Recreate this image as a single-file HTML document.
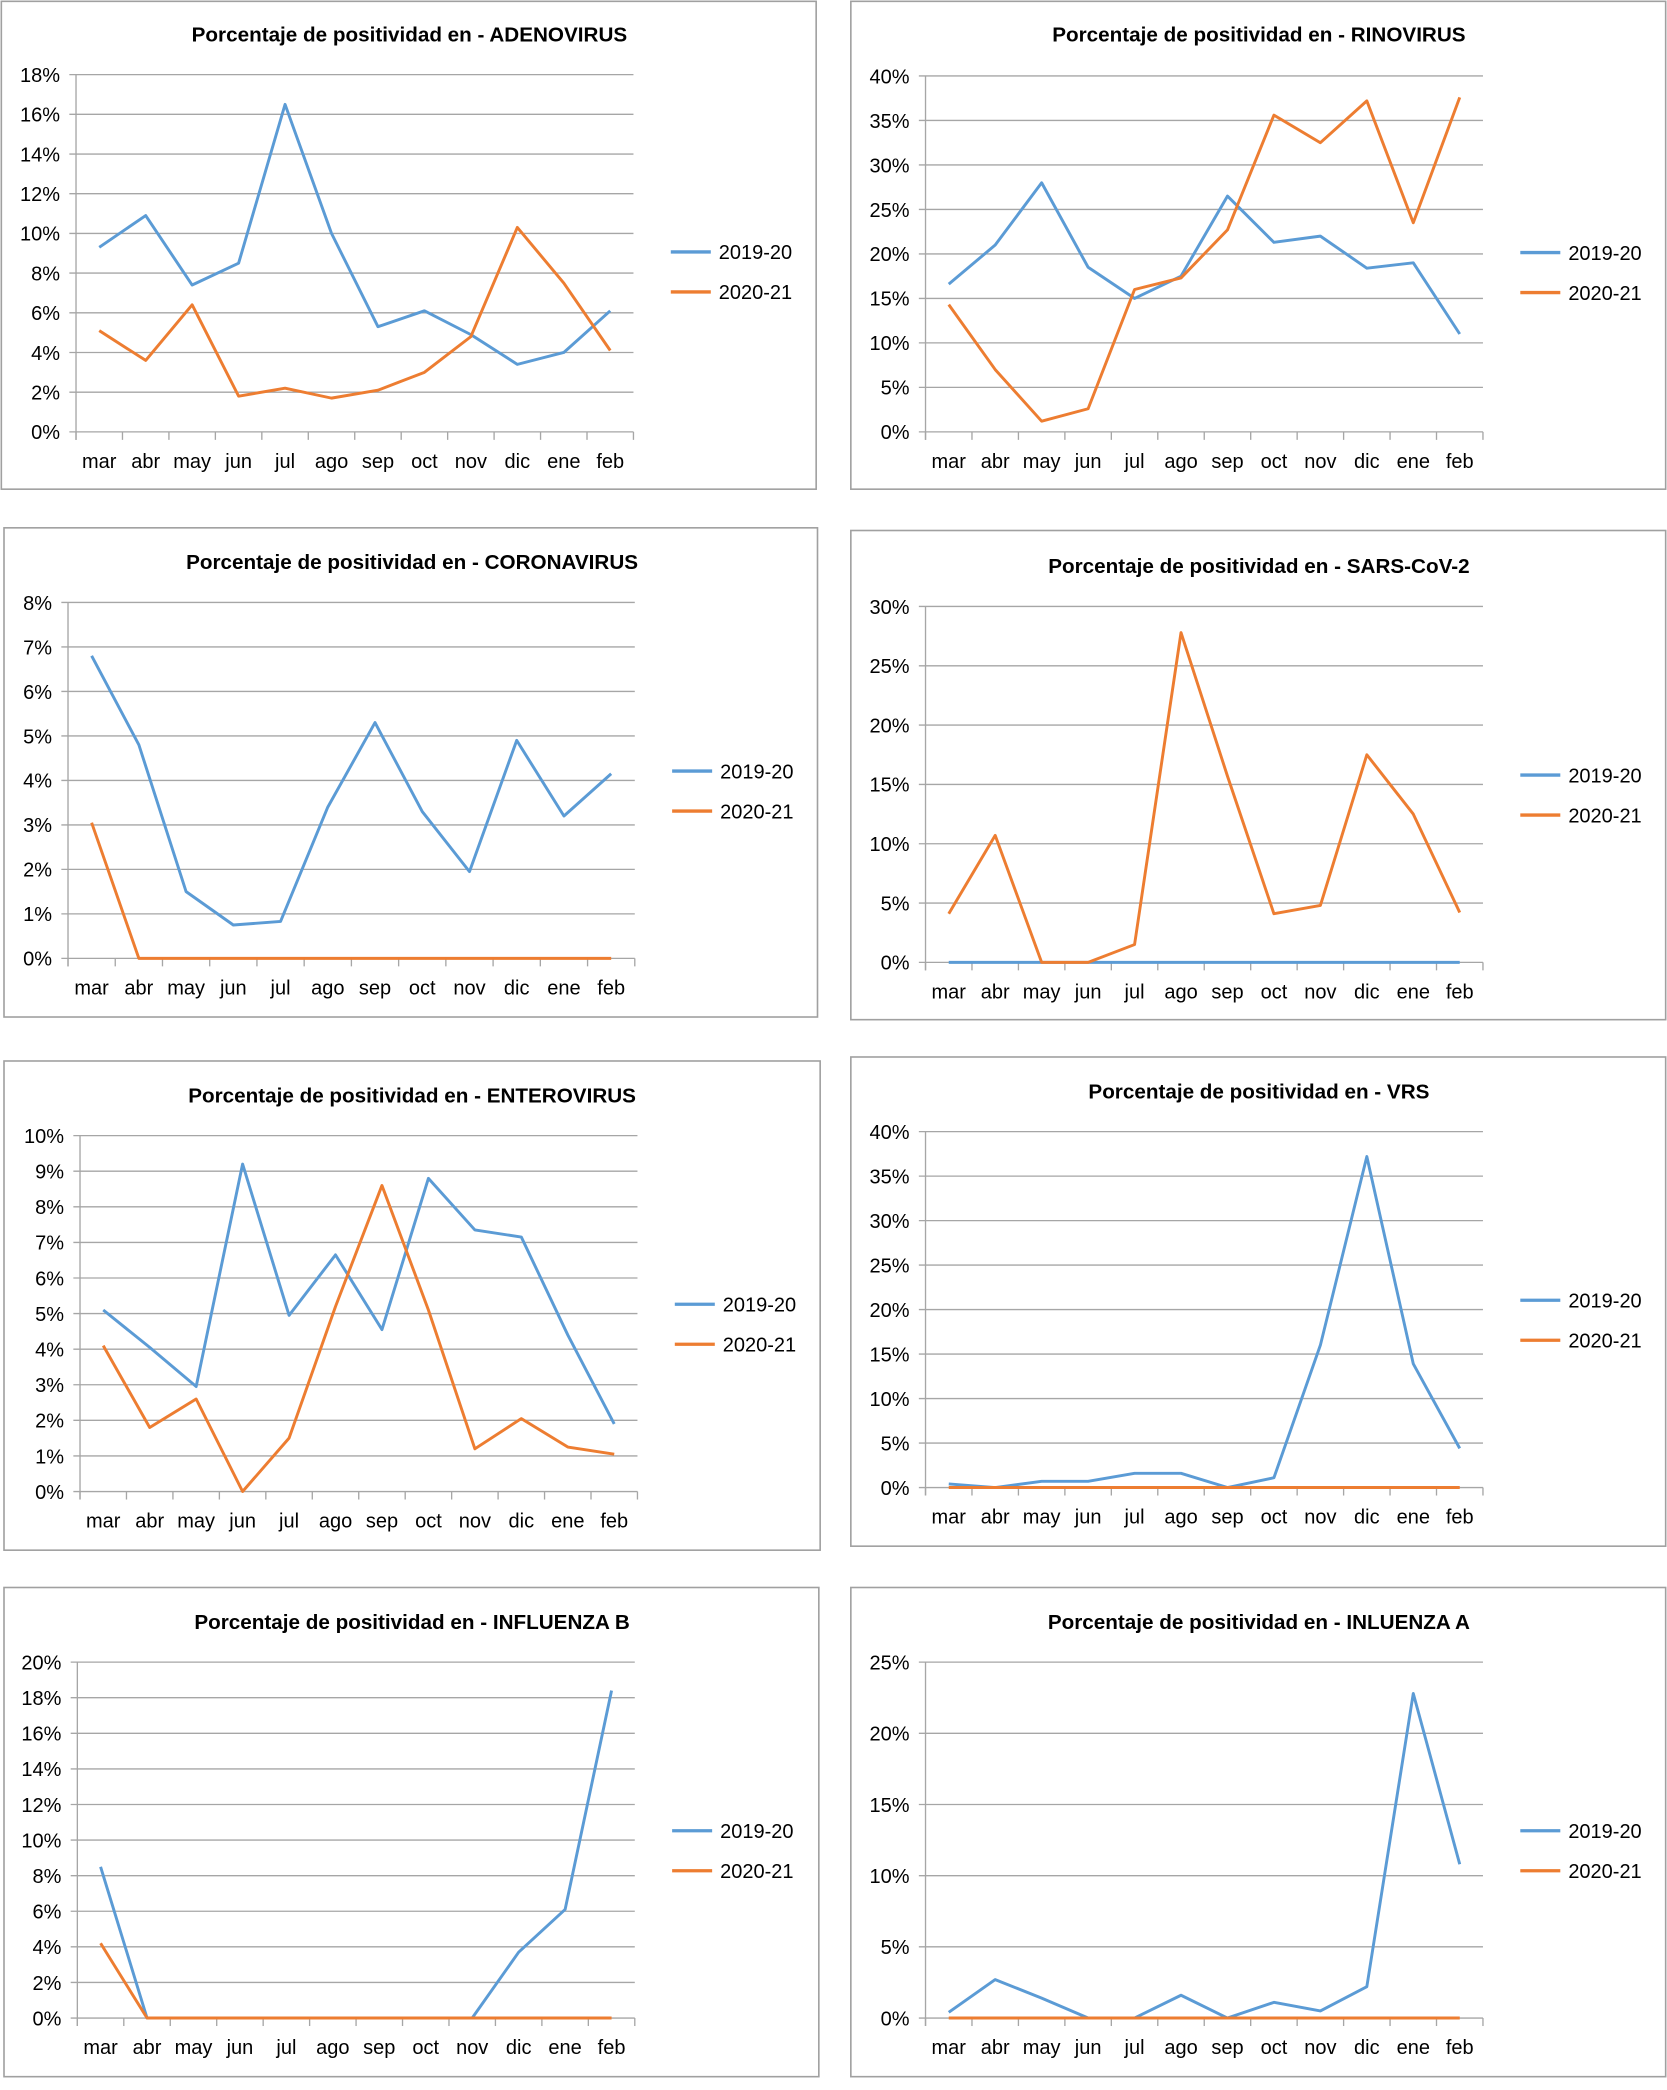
<!DOCTYPE html>
<html><head><meta charset="utf-8"><style>
html,body{margin:0;padding:0;background:#fff;}
svg{display:block;}
text{font-family:"Liberation Sans",sans-serif;fill:#000;}
</style></head><body>
<svg id="root" width="1667" height="2090" viewBox="0 0 1250 1568" preserveAspectRatio="none" xmlns="http://www.w3.org/2000/svg"></svg>
<script>
const months = ["mar","abr","may","jun","jul","ago","sep","oct","nov","dic","ene","feb"];
const seriesNames = ["2019-20","2020-21"];
const adenoA = [9.3,10.9,7.4,8.5,16.5,10,5.3,6.1,4.9,3.4,4.0,6.1];
const adenoB = [5.1,3.6,6.4,1.8,2.2,1.7,2.1,3.0,4.8,10.3,7.5,4.1];
const rinoA = [16.6,21,28,18.5,15,17.5,26.5,21.3,22,18.4,19,11];
const rinoB = [14.3,7,1.2,2.6,16,17.3,22.7,35.6,32.5,37.2,23.5,37.6];
const coronaA = [6.8,4.8,1.5,0.75,0.83,3.4,5.3,3.3,1.95,4.9,3.2,4.15];
const coronaB = [3.05,0,0,0,0,0,0,0,0,0,0,0];
const sarsA = [0,0,0,0,0,0,0,0,0,0,0,0];
const sarsB = [4.1,10.7,0,0,1.5,27.8,15.7,4.1,4.8,17.5,12.5,4.2];
const enteroA = [5.1,4.05,2.95,9.2,4.95,6.65,4.55,8.8,7.35,7.15,4.4,1.9];
const enteroB = [4.1,1.8,2.6,0,1.5,5.2,8.6,5.1,1.2,2.05,1.25,1.05];
const vrsA = [0.4,0,0.7,0.7,1.6,1.6,0,1.1,16,37.2,13.9,4.4];
const vrsB = [0,0,0,0,0,0,0,0,0,0,0,0];
const fluBA = [8.5,0,0,0,0,0,0,0,0,3.7,6.1,18.4];
const fluBB = [4.2,0,0,0,0,0,0,0,0,0,0,0];
const fluAA = [0.4,2.7,1.4,0,0,1.6,0,1.1,0.5,2.2,22.8,10.8];
const fluAB = [0,0,0,0,0,0,0,0,0,0,0,0];

const charts = [
 {id:"adenovirus",title:"Porcentaje de positividad en -  ADENOVIRUS",a:adenoA,b:adenoB,max:18,step:2,box:[1,1,611,366],pl:57,pr:475,pt:56,pb:324,ty:25},
 {id:"rinovirus",title:"Porcentaje de positividad en - RINOVIRUS",a:rinoA,b:rinoB,max:40,step:5,box:[638,1,611,366],pl:694,pr:1112,pt:57,pb:324,ty:25},
 {id:"coronavirus",title:"Porcentaje de positividad en -  CORONAVIRUS",a:coronaA,b:coronaB,max:8,step:1,box:[3,396,610,367],pl:51,pr:476,pt:452,pb:719,ty:421},
 {id:"sars-cov-2",title:"Porcentaje de positividad en - SARS-CoV-2",a:sarsA,b:sarsB,max:30,step:5,box:[638,398,611,367],pl:694,pr:1112,pt:455,pb:722,ty:424},
 {id:"enterovirus",title:"Porcentaje de positividad en -  ENTEROVIRUS",a:enteroA,b:enteroB,max:10,step:1,box:[3,796,612,367],pl:60,pr:478,pt:852,pb:1119,ty:821},
 {id:"vrs",title:"Porcentaje de positividad en -  VRS",a:vrsA,b:vrsB,max:40,step:5,box:[638,793,611,367],pl:694,pr:1112,pt:849,pb:1116,ty:818},
 {id:"influenza-b",title:"Porcentaje de positividad en - INFLUENZA B",a:fluBA,b:fluBB,max:20,step:2,box:[3,1191,611,367],pl:58,pr:476,pt:1247,pb:1514,ty:1216},
 {id:"influenza-a",title:"Porcentaje de positividad en -  INLUENZA A",a:fluAA,b:fluAB,max:25,step:5,box:[638,1191,611,367],pl:694,pr:1112,pt:1247,pb:1514,ty:1216}
];
const NS="http://www.w3.org/2000/svg";
const root=document.getElementById("root");
function mk(tag,attrs,parent){const e=document.createElementNS(NS,tag);for(const k in attrs)e.setAttribute(k,attrs[k]);parent.appendChild(e);return e;}
const colors=["#5b9bd5","#ed7d31"];
charts.forEach(c=>{
  const g=mk("g",{},root);
  
  
  const bx=mk("rect",{x:c.box[0],y:c.box[1],width:c.box[2],height:c.box[3],fill:"#fff",stroke:"#a0a0a0","stroke-width":1.2},g);
  
  
  const t=mk("text",{x:c.box[0]+306,y:c.ty+6,"text-anchor":"middle","font-size":15.5,"font-weight":"bold"},g);
  t.textContent=c.title;
  
  
  const yS=v=>c.pb-(v/c.max)*(c.pb-c.pt);
  const cw=(c.pr-c.pl)/months.length;
  const xS=i=>c.pl+cw*(i+0.5);
  for(let v=0;v<=c.max+1e-9;v+=c.step){
    const y=yS(v);
    const gl=mk("line",{x1:c.pl-5,x2:c.pr,y1:y,y2:y,stroke:"#a6a6a6","stroke-width":1},g);
    
    
    const lt=mk("text",{x:c.pl-12,y:y+5.5,"text-anchor":"end","font-size":15},g);
    lt.textContent=v+"%";
    
    
  }
  mk("line",{x1:c.pl,x2:c.pl,y1:c.pt,y2:c.pb+6,stroke:"#a6a6a6","stroke-width":1},g);
  for(let i=0;i<=months.length;i++){
    const x=c.pl+cw*i;
    mk("line",{x1:x,x2:x,y1:c.pb,y2:c.pb+6,stroke:"#a6a6a6","stroke-width":1},g);
  }
  months.forEach((m,i)=>{
    const mt=mk("text",{x:xS(i),y:c.pb+27,"text-anchor":"middle","font-size":15},g);
    mt.textContent=m;
    
    
  });
  [c.a,c.b].forEach((arr,si)=>{
    const p=mk("polyline",{points:arr.map((v,i)=>xS(i)+","+yS(v)).join(" "),fill:"none",stroke:colors[si],"stroke-width":2.2,"stroke-linejoin":"round"},g);
    
    
    const ly=(c.pt+c.pb)/2+(si===0?-7:23)+ (c.id==="adenovirus"||c.id==="rinovirus"?6:0);
    const lx=c.pr+28;
    const ll=mk("line",{x1:lx,x2:lx+30,y1:ly,y2:ly,stroke:colors[si],"stroke-width":2.5},g);
    
    
    const lt=mk("text",{x:lx+36,y:ly+5.5,"font-size":15},g);
    lt.textContent=seriesNames[si];
    
    
  });
});
</script>
</body></html>
